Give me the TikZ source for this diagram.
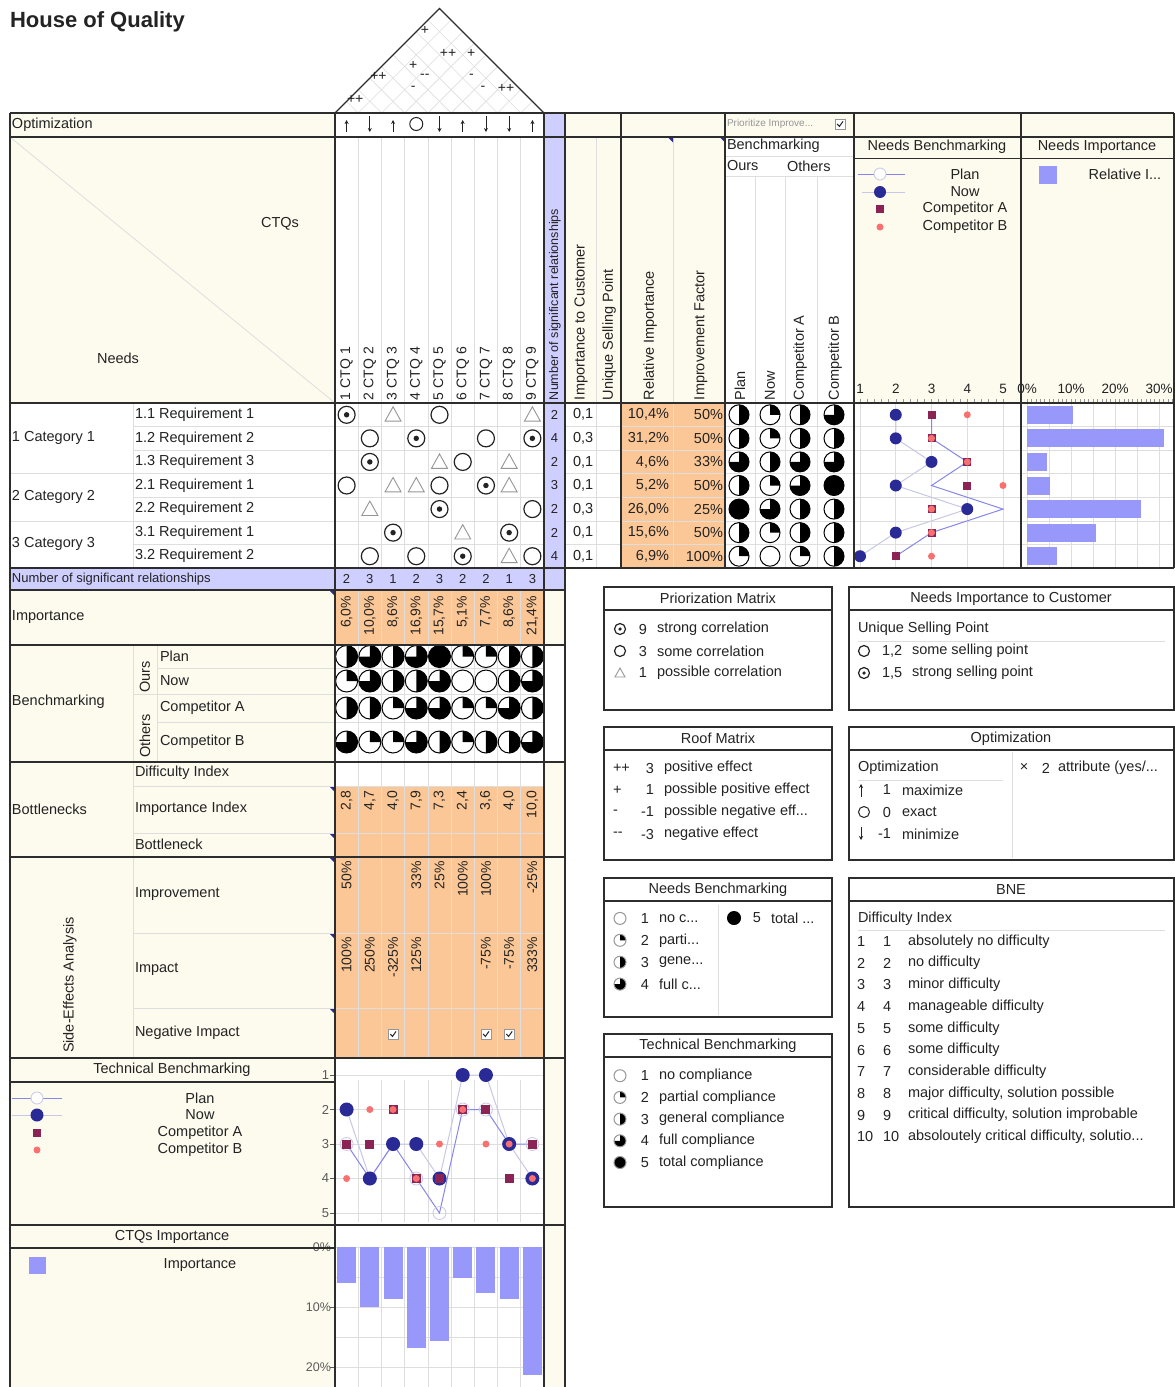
\documentclass[tikz,border=0pt]{standalone}
\usepackage{fontspec}
\setmainfont{Liberation Sans}
\usetikzlibrary{calc,arrows.meta}

\definecolor{cream}{RGB}{253,250,238}
\definecolor{orangecell}{RGB}{252,199,150}
\definecolor{bluecell}{RGB}{206,206,255}
\definecolor{barblue}{RGB}{152,152,250}
\definecolor{navydot}{RGB}{42,42,150}
\definecolor{maroonsq}{RGB}{140,35,85}
\definecolor{salmondot}{RGB}{248,112,112}
\definecolor{planline}{RGB}{135,135,235}
\definecolor{nowline}{RGB}{200,200,230}
\definecolor{gridgray}{RGB}{222,222,222}
\definecolor{framegray}{RGB}{45,45,45}
\definecolor{symgray}{RGB}{150,150,150}
\definecolor{inkgray}{RGB}{35,35,35}
\definecolor{labelgray}{RGB}{90,90,90}

\newcommand{\fs}[1]{\fontsize{#1}{#1}\selectfont}
\newcommand{\colw}{23.222}
\newcommand{\rowh}{23.571}
\newcommand{\tdots}{...}

% Harvey ball: centre, radius, level 1..5, outline colour
\newcommand{\hball}[4]{%
  \fill[white] (#1) circle[radius=#2];
  \ifnum#3>4 \fill[black] (#1) circle[radius=#2];\fi
  \ifnum#3>1 \ifnum#3<5
    \fill[black] (#1) -- ++(270:#2) arc[start angle=270, delta angle={(#3-1)*90}, radius=#2] -- cycle;
  \fi\fi
  \draw[#4, line width=1pt] (#1) circle[radius=#2];}

% relationship symbols: centre, size
\newcommand{\corrstrong}[2]{\draw[inkgray, line width=1.2pt] (#1) circle[radius=#2];
  \fill[inkgray] (#1) circle[radius={0.32*#2}];}
\newcommand{\corrsome}[2]{\draw[inkgray, line width=1.2pt] (#1) circle[radius=#2];}
\newcommand{\corrweak}[2]{\draw[symgray, line width=0.9pt]
  ($(#1)+({-#2},{0.8*#2})$) -- ($(#1)+({#2},{0.8*#2})$) -- ($(#1)+(0,{-1.0*#2})$) -- cycle;}
% ticked check box
\newcommand{\tickbox}[1]{\draw[symgray, fill=white, line width=0.6pt] ($(#1)+(-5,-5)$) rectangle ($(#1)+(5,5)$);
  \draw[inkgray, line width=1pt] ($(#1)+(-2.8,0)$) -- ($(#1)+(-0.6,2.4)$) -- ($(#1)+(3,-2.6)$);}

\begin{document}
\begin{tikzpicture}[x=1pt, y=-1pt,
  every node/.style={inner sep=0pt, outer sep=0pt, font=\fs{14.5}, text=inkgray},
  tframe/.style={draw=framegray, line width=1.3pt},
  hair/.style={draw=gridgray, line width=0.6pt},
  lbl/.style={anchor=west},
  vlbl/.style={rotate=90, anchor=west},
  vval/.style={rotate=90, anchor=east, font=\fs{14}},
  smalltxt/.style={font=\fs{13}},
  legbox/.style={draw=framegray, line width=1.2pt, fill=white},
  legrule/.style={draw=framegray, line width=1.2pt},
  softrule/.style={draw=gridgray, line width=0.8pt},
  upar/.style={draw=inkgray, line width=0.8pt, -{Stealth[length=4pt,width=4pt]}},
]
\useasboundingbox (0,0) rectangle (1175,1387);
\fill[white] (0,0) rectangle (1175,1387);

% ---------------- title
\node[anchor=west, font=\bfseries\fs{22}] (title) at (10,22) {House of Quality};

% ---------------- backgrounds
\fill[cream] (10,113) rectangle (335,403);
\fill[bluecell] (544,113) rectangle (565,590);
\fill[bluecell] (10,568) rectangle (565,590);
\fill[cream] (565,113) rectangle (1174,137);
\fill[cream] (565,137) rectangle (725,403);
\fill[cream] (854,137) rectangle (1174,403);
\fill[orangecell] (621,403) rectangle (725,568);
\fill[cream] (10,590) rectangle (335,1387);
\fill[cream] (544,590) rectangle (565,1387);
\fill[white] (544,645) rectangle (565,762);
\fill[orangecell] (335,590) rectangle (544,645);
\fill[orangecell] (335,786) rectangle (544,1058);

% ---------------- roof
\foreach \k in {1,...,8}{
  \pgfmathsetmacro\bx{335+\colw*\k}
  \draw[hair] (\bx,113) -- ({(544+\bx)/2},{113-(544-\bx)/2});
  \draw[hair] (\bx,113) -- ({(335+\bx)/2},{113-(\bx-335)/2});
}
\draw[tframe] (335,113) -- (439.5,8.5) -- (544,113);
\foreach \i/\j/\m [count=\n] in {1/2/{++},1/4/{++},2/6/+,1/8/+,3/8/{++},4/9/+,3/6/{-{}-},5/8/-,3/5/-,6/8/-,7/9/{++}}{
  \node[font=\fs{14}] (roof\n) at ({335+\colw*((\i+\j)/2-0.5)-3},{113-\colw*(\j-\i)/2-1.5}) {\m};
}

% ---------------- grid of the matrix and side columns
\foreach \k in {1,...,8}{
  \draw[hair] ({335+\colw*\k},137) -- ({335+\colw*\k},568);
  \draw[hair] ({335+\colw*\k},590) -- ({335+\colw*\k},1058);
}
\foreach \r in {1,...,6}{
  \draw[hair] (133,{403+\rowh*\r}) -- (544,{403+\rowh*\r});
  \draw[hair] (565,{403+\rowh*\r}) -- (1174,{403+\rowh*\r});
}
\draw[hair] (10,{403+\rowh*3}) -- (133,{403+\rowh*3});
\draw[hair] (10,{403+\rowh*5}) -- (133,{403+\rowh*5});
\draw[hair] (133,403) -- (133,568);
\draw[hair] (596,137) -- (596,568);
\draw[hair] (673,137) -- (673,568);
\draw[softrule] (725,156) -- (854,156);
\draw[softrule] (725,176) -- (854,176);
\foreach \x in {755,785,817} \draw[hair] (\x,176) -- (\x,568);
\foreach \v in {1,...,5} \draw[hair] ({860+35.75*(\v-1)},403) -- ({860+35.75*(\v-1)},568);
\foreach \k in {0,...,6} \draw[hair] ({1027+22*\k},403) -- ({1027+22*\k},568);
% lower left sub-rows
\draw[hair] (133,645) -- (133,1058);
\draw[hair] (157,645) -- (157,762);
\draw[hair] (157,668) -- (544,668);
\draw[hair] (133,694) -- (544,694);
\draw[hair] (157,722) -- (544,722);
\draw[hair] (133,786) -- (544,786);
\draw[hair] (133,833) -- (544,833);
\draw[hair] (133,933) -- (544,933);
\draw[hair] (133,1008) -- (544,1008);

% ---------------- optimization row
\node[lbl] (optlbl) at (12,125) {Optimization};
\foreach \c in {1,3,6,9}{
  \coordinate (optu\c) at ({335+\colw*(\c-0.5)},125);
  \draw[upar] ($(optu\c)+(0,7)$) -- ($(optu\c)+(0,-5)$);
}
\foreach \c in {2,5,7,8}{
  \coordinate (optd\c) at ({335+\colw*(\c-0.5)},124);
  \draw[upar] ($(optd\c)+(0,-8)$) -- ($(optd\c)+(0,8)$);
}
\coordinate (opt4) at ({335+\colw*3.5},124);
\draw[inkgray, line width=1pt] (opt4) circle[radius=6.5];
\node[lbl, font=\fs{10}, text=symgray] (prio) at (727,124) {Prioritize Improve\tdots};
\coordinate (priobox) at (840,124);
\tickbox{priobox}

% ---------------- header
\draw[gridgray, line width=0.8pt] (10,137) -- (335,403);
\node (ctqs) at (280,224) {CTQs};
\node (needs) at (118,358) {Needs};
\foreach \c in {1,...,9}
  \node[vlbl, font=\fs{14}] (ctq\c) at ({335+\colw*(\c-0.5)},400) {\c\ CTQ \c};
\node[vlbl, font=\fs{12.5}] (nsrhead) at (555,400) {Number of significant relationships};
\node[vlbl] (imphead) at (581,400) {Importance to Customer};
\node[vlbl] (usphead) at (609,400) {Unique Selling Point};
\node[vlbl] (relhead) at (650,400) {Relative Importance};
\node[vlbl] (ifhead) at (701,400) {Improvement Factor};
\node[lbl] (bmhead) at (727,146) {Benchmarking};
\node[lbl] (ourshead) at (727,166) {Ours};
\node[lbl] (othershead) at (787,166) {Others};
\node[vlbl] (bmplan) at (740,400) {Plan};
\node[vlbl] (bmnow) at (770,400) {Now};
\node[vlbl] (bmca) at (800,400) {Competitor A};
\node[vlbl] (bmcb) at (835,400) {Competitor B};
\fill[navydot] (668,137.5) -- (673,137.5) -- (673,142.5) -- cycle;
\fill[navydot] (720,137.5) -- (725,137.5) -- (725,142.5) -- cycle;

% needs benchmarking header and legend
\node (nbhead) at (937,147) {Needs Benchmarking};
\node (nihead) at (1097,147) {Needs Importance};
\draw[framegray, line width=1pt] (854,158) -- (1174,158);
\draw[planline, line width=1pt] (858,174) -- (905,174);
\draw[nowline, fill=white, line width=0.8pt] (880,174) circle[radius=6];
\node (nblplan) at (965,174) {Plan};
\draw[nowline, line width=1pt] (862,192) -- (905,192);
\fill[navydot] (880,192) circle[radius=6];
\node (nblnow) at (965,192) {Now};
\fill[maroonsq] (876,205) rectangle (884,213);
\node (nblca) at (965,209) {Competitor A};
\fill[salmondot] (880,227) circle[radius=3.5];
\node (nblcb) at (965,227) {Competitor B};
\fill[barblue] (1039,166) rectangle (1057,184);
\node (nilrel) at (1125,174) {Relative I\tdots};
\foreach \v in {1,...,5}
  \node[font=\fs{13.5}] (nbax\v) at ({860+35.75*(\v-1)},389) {\v};
\foreach \p [count=\k from 0] in {0,10,20,30}
  \node[font=\fs{13.5}] (niax\p) at ({1027+44*\k},389) {\p\%};
\foreach \k in {0,...,20} \draw[symgray, line width=0.5pt] ({860+7.15*\k},399) -- ({860+7.15*\k},403);
\foreach \k in {0,...,33} \draw[symgray, line width=0.5pt] ({1027+4.4*\k},399) -- ({1027+4.4*\k},403);

% ---------------- needs rows
\node[lbl] (cat1) at (12,{403+\rowh*1.5}) {1 Category 1};
\node[lbl] (cat2) at (12,{403+\rowh*4}) {2 Category 2};
\node[lbl] (cat3) at (12,{403+\rowh*6}) {3 Category 3};
\foreach \r/\t/\u in {1/1.1/1,2/1.2/2,3/1.3/3,4/2.1/1,5/2.2/2,6/3.1/1,7/3.2/2}{
  \node[lbl] (req\r) at (135,{403+\rowh*(\r-0.5)}) {\t\ Requirement \u};
}
\foreach \r in {1,...,7}
  \foreach \c in {1,...,9}
    \coordinate (m-\r-\c) at ({335+\colw*(\c-0.5)},{403+\rowh*(\r-0.5)});
\foreach \r/\c in {1/1,2/4,2/9,3/2,4/7,5/5,6/3,6/8,7/6} {\corrstrong{m-\r-\c}{8.5}}
\foreach \r/\c in {1/5,2/2,2/7,3/6,4/1,4/5,5/9,7/2,7/4,7/9} {\corrsome{m-\r-\c}{8.5}}
\foreach \r/\c in {1/3,1/9,3/5,3/8,4/3,4/4,4/8,5/2,6/6,7/8} {\corrweak{m-\r-\c}{8}}
\foreach \cnt [count=\r] in {2,4,2,3,2,2,4}
  \node[smalltxt] (rc\r) at (554.5,{403+\rowh*(\r-0.5)}) {\cnt};
\foreach \r/\valA/\valB/\valC in {1/{0,1}/{10,4}/50,2/{0,3}/{31,2}/50,3/{0,1}/{4,6}/33,4/{0,1}/{5,2}/50,5/{0,3}/{26,0}/25,6/{0,1}/{15,6}/50,7/{0,1}/{6,9}/100}{
  \node[lbl] (ic\r) at (573,{403+\rowh*(\r-0.5)}) {\valA};
  \node[anchor=east] (ri\r) at (669,{403+\rowh*(\r-0.5)}) {\valB\%};
  \node[anchor=east] (ifc\r) at (723,{403+\rowh*(\r-0.5)}) {\valC\%};
}
% customer benchmarking balls
\foreach \r/\lvP/\lvN/\lvA/\lvB in {1/3/2/3/4,2/3/2/3/3,3/4/3/4/4,4/3/2/4/5,5/5/4/3/3,6/3/2/3/3,7/2/1/2/3}{
  \coordinate (cbp\r) at (739,{403+\rowh*(\r-0.5)});
  \coordinate (cbn\r) at (770,{403+\rowh*(\r-0.5)});
  \coordinate (cba\r) at (800,{403+\rowh*(\r-0.5)});
  \coordinate (cbb\r) at (834,{403+\rowh*(\r-0.5)});
  \hball{cbp\r}{10}{\lvP}{black}
  \hball{cbn\r}{10}{\lvN}{black}
  \hball{cba\r}{10}{\lvA}{black}
  \hball{cbb\r}{10}{\lvB}{black}
}
% needs benchmarking chart
\foreach \v [count=\r] in {3,3,4,3,5,3,2} \coordinate (np\r) at ({860+35.75*(\v-1)},{403+\rowh*(\r-0.5)});
\foreach \v [count=\r] in {2,2,3,2,4,2,1} \coordinate (nn\r) at ({860+35.75*(\v-1)},{403+\rowh*(\r-0.5)});
\foreach \v [count=\r] in {3,3,4,4,3,3,2} \coordinate (na\r) at ({860+35.75*(\v-1)},{403+\rowh*(\r-0.5)});
\foreach \v [count=\r] in {4,3,4,5,3,3,3} \coordinate (nb\r) at ({860+35.75*(\v-1)},{403+\rowh*(\r-0.5)});
\draw[nowline, line width=1pt] (nn1) \foreach \r in {2,...,7}{ -- (nn\r)};
\draw[planline, line width=1pt] (np1) \foreach \r in {2,...,7}{ -- (np\r)};
\foreach \r in {1,...,7} \fill[navydot] (nn\r) circle[radius=6];
\foreach \r in {1,...,7} \fill[maroonsq] ($(na\r)+(-4,-4)$) rectangle ($(na\r)+(4,4)$);
\foreach \r in {1,...,7} \fill[salmondot] (nb\r) circle[radius=3.5];
% needs importance bars
\foreach \v [count=\r] in {10.4,31.2,4.6,5.2,26.0,15.6,6.9}
  \fill[barblue] (1027,{403+\rowh*(\r-0.5)-9}) rectangle ({1027+4.4*\v},{403+\rowh*(\r-0.5)+9});

% ---------------- number of significant relationships
\node[lbl, font=\fs{13}] (nsrlbl) at (12,579) {Number of significant relationships};
\foreach \cnt [count=\c] in {2,3,1,2,3,2,2,1,3}
  \node[smalltxt] (cc\c) at ({335+\colw*(\c-0.5)},579) {\cnt};

% ---------------- importance
\node[lbl] (implbl) at (12,617) {Importance};
\foreach \v [count=\c] in {{6,0},{10,0},{8,6},{16,9},{15,7},{5,1},{7,7},{8,6},{21,4}}
  \node[vval] (imp\c) at ({335+\colw*(\c-0.5)},596) {\v\%};

% ---------------- technical benchmarking balls
\node[lbl] (bmlbl) at (12,702) {Benchmarking};
\node[rotate=90] (ourslbl) at (145,677) {Ours};
\node[rotate=90] (otherslbl) at (145,736) {Others};
\node[lbl] (tplan) at (160,656) {Plan};
\node[lbl] (tnow) at (160,681) {Now};
\node[lbl] (tca) at (160,708) {Competitor A};
\node[lbl] (tcb) at (160,742) {Competitor B};
\foreach \v [count=\c] in {3,4,3,4,5,2,2,3,3}{\coordinate (bp\c) at ({335+\colw*(\c-0.5)},656.5); \hball{bp\c}{11}{\v}{black}}
\foreach \v [count=\c] in {2,4,3,3,4,1,1,3,4}{\coordinate (bn\c) at ({335+\colw*(\c-0.5)},681); \hball{bn\c}{11}{\v}{black}}
\foreach \v [count=\c] in {3,3,2,4,4,2,2,4,3}{\coordinate (ba\c) at ({335+\colw*(\c-0.5)},708); \hball{ba\c}{11}{\v}{black}}
\foreach \v [count=\c] in {4,2,2,4,3,2,3,3,4}{\coordinate (bb\c) at ({335+\colw*(\c-0.5)},742); \hball{bb\c}{11}{\v}{black}}

% ---------------- bottlenecks
\node[lbl] (bnlbl) at (12,809) {Bottlenecks};
\node[lbl] (dilbl) at (135,773) {Difficulty Index};
\node[lbl] (iilbl) at (135,809) {Importance Index};
\node[lbl] (bklbl) at (135,844) {Bottleneck};
\foreach \v [count=\c] in {{2,8},{4,7},{4,0},{7,9},{7,3},{2,4},{3,6},{4,0},{10,0}}
  \node[vval] (ii\c) at ({335+\colw*(\c-0.5)},791) {\v};

% ---------------- side-effects analysis
\node[rotate=90] (sealbl) at (70,985) {Side-Effects Analysis};
\node[lbl] (imprlbl) at (135,894) {Improvement};
\node[lbl] (impalbl) at (135,969) {Impact};
\node[lbl] (neglbl) at (135,1033) {Negative Impact};
\foreach \c/\v in {1/50,4/33,5/25,6/100,7/100,9/-25}
  \node[vval] (impr\c) at ({335+\colw*(\c-0.5)},861) {\v\%};
\foreach \c/\v in {1/100,2/250,3/-325,4/125,7/-75,8/-75,9/333}
  \node[vval] (impa\c) at ({335+\colw*(\c-0.5)},937) {\v\%};
\foreach \c in {3,7,8}{\coordinate (neg\c) at ({335+\colw*(\c-0.5)},1034); \tickbox{neg\c}}
\foreach \y in {591,787,834,858,934,1009}
  \fill[navydot] (330,\y) -- (335,\y) -- (335,\y+5) -- cycle;

% ---------------- technical benchmarking chart
\node (tbtitle) at (172,1070) {Technical Benchmarking};
\draw[planline, line width=1pt] (12,1098) -- (62,1098);
\draw[nowline, fill=white, line width=0.8pt] (37,1098) circle[radius=6];
\node (tblplan) at (200,1098) {Plan};
\draw[nowline, line width=1pt] (12,1115) -- (62,1115);
\fill[navydot] (37,1115) circle[radius=6.5];
\node (tblnow) at (200,1115) {Now};
\fill[maroonsq] (33,1129) rectangle (41,1137);
\node (tblca) at (200,1133) {Competitor A};
\fill[salmondot] (37,1150) circle[radius=3.5];
\node (tblcb) at (200,1150) {Competitor B};
\foreach \v in {1,...,5}{
  \draw[hair] (335,{1075+34.5*(\v-1)}) -- (544,{1075+34.5*(\v-1)});
  \draw[labelgray, line width=0.6pt] (330,{1075+34.5*(\v-1)}) -- (335,{1075+34.5*(\v-1)});
  \node[anchor=east, font=\fs{13}, text=labelgray] (tax\v) at (329,{1075+34.5*(\v-1)}) {\v};
}
\foreach \k in {1,...,8} \draw[hair] ({335+\colw*\k},1080) -- ({335+\colw*\k},1222);
\foreach \v [count=\c] in {3,4,3,4,5,2,2,3,3} \coordinate (tp\c) at ({335+\colw*(\c-0.5)},{1075+34.5*(\v-1)});
\foreach \v [count=\c] in {2,4,3,3,4,1,1,3,4} \coordinate (tn\c) at ({335+\colw*(\c-0.5)},{1075+34.5*(\v-1)});
\foreach \v [count=\c] in {3,3,2,4,4,2,2,4,3} \coordinate (ta\c) at ({335+\colw*(\c-0.5)},{1075+34.5*(\v-1)});
\foreach \v [count=\c] in {4,2,2,4,3,2,3,3,4} \coordinate (tb\c) at ({335+\colw*(\c-0.5)},{1075+34.5*(\v-1)});
\draw[nowline, line width=1pt] (tn1) \foreach \c in {2,...,9}{ -- (tn\c)};
\draw[planline, line width=1pt] (tp1) \foreach \c in {2,...,9}{ -- (tp\c)};
\foreach \c in {1,...,9} \draw[nowline, line width=0.8pt] (tp\c) circle[radius=6.5];
\foreach \c in {1,...,9} \fill[navydot] (tn\c) circle[radius=7];
\foreach \c in {1,...,9} \fill[maroonsq] ($(ta\c)+(-4.5,-4.5)$) rectangle ($(ta\c)+(4.5,4.5)$);
\foreach \c in {1,...,9} \fill[salmondot] (tb\c) circle[radius=3.5];

% ---------------- CTQs importance chart
\node (ctqititle) at (172,1237) {CTQs Importance};
\fill[barblue] (29,1257) rectangle (46,1274);
\node (ctqileg) at (200,1265) {Importance};
\foreach \k in {0,...,4} \draw[hair] (335,{1247+30*\k}) -- (544,{1247+30*\k});
\foreach \k in {1,...,8} \draw[hair] ({335+\colw*\k},1247) -- ({335+\colw*\k},1387);
\foreach \p [count=\k from 0] in {0,10,20}{
  \draw[labelgray, line width=0.6pt] (330,{1247+60*\k}) -- (335,{1247+60*\k});
  \node[anchor=east, font=\fs{12.5}, text=labelgray] (ctqiax\p) at (331,{1247+60*\k}) {\p\%};
}
\foreach \v [count=\c] in {6.0,10.0,8.6,16.9,15.7,5.1,7.7,8.6,21.4}
  \fill[barblue] ({335+\colw*(\c-0.5)-9.5},1247) rectangle ({335+\colw*(\c-0.5)+9.5},{1247+6*\v});

% ---------------- main frame lines
\foreach \y in {113,137,403,568}
  \draw[tframe] (10,\y) -- (1174,\y);
\foreach \y in {590,645,762,857,1058,1225}
  \draw[tframe] (10,\y) -- (565,\y);
\draw[tframe] (10,1082) -- (335,1082);
\draw[tframe] (10,1248) -- (335,1248);
\foreach \x in {10,335,544,565}
  \draw[tframe] (\x,113) -- (\x,1387);
\foreach \x in {621,725,854,1021,1174}
  \draw[tframe] (\x,113) -- (\x,568);

% ---------------- legend: priorization matrix
\draw[legbox] (604,587) rectangle (832,710);
\draw[legrule] (604,610) -- (832,610);
\node (lgpm) at (718,598.5) {Priorization Matrix};
\coordinate (lgpm1) at (620,629); \corrstrong{lgpm1}{5.5}
\coordinate (lgpm2) at (620,651); \corrsome{lgpm2}{5.5}
\coordinate (lgpm3) at (620,673); \corrweak{lgpm3}{5}
\foreach \n/\t [count=\k] in {9/strong correlation,3/some correlation,1/possible correlation}{
  \node (lgpmn\k) at (643,{607+22*\k}) {\n};
  \node[lbl] (lgpmt\k) at (657,{607+22*\k}) {\t};
}

% ---------------- legend: needs importance to customer
\draw[legbox] (849,587) rectangle (1174,710);
\draw[legrule] (849,610) -- (1174,610);
\node (lgni) at (1011,598.5) {Needs Importance to Customer};
\node[lbl] (lgnih) at (858,629) {Unique Selling Point};
\draw[softrule] (858,641) -- (1165,641);
\coordinate (lgni1) at (864,651); \corrsome{lgni1}{5.5}
\coordinate (lgni2) at (864,673); \corrstrong{lgni2}{5.5}
\node[lbl] (lgnin1) at (882,651) {1,2};
\node[lbl] (lgnit1) at (912,651) {some selling point};
\node[lbl] (lgnin2) at (882,673) {1,5};
\node[lbl] (lgnit2) at (912,673) {strong selling point};

% ---------------- legend: roof matrix
\draw[legbox] (604,727) rectangle (832,860);
\draw[legrule] (604,750) -- (832,750);
\node (lgrm) at (718,738.5) {Roof Matrix};
\foreach \s/\n/\t [count=\k] in {{++}/3/positive effect,+/1/possible positive effect,-/-1/possible negative eff\tdots,{-{}-}/-3/negative effect}{
  \node[lbl] (lgrms\k) at (613,{746+22*\k}) {\s};
  \node[anchor=east] (lgrmn\k) at (654,{746+22*\k}) {\n};
  \node[lbl] (lgrmt\k) at (664,{746+22*\k}) {\t};
}

% ---------------- legend: optimization
\draw[legbox] (849,727) rectangle (1174,860);
\draw[legrule] (849,750) -- (1174,750);
\node (lgop) at (1011,738.5) {Optimization};
\draw[softrule] (1012,752) -- (1012,858);
\node[lbl] (lgoph) at (858,768) {Optimization};
\draw[softrule] (858,780) -- (1003,780);
\coordinate (lgop1) at (861,790);
\draw[upar] ($(lgop1)+(0,7)$) -- ($(lgop1)+(0,-6)$);
\coordinate (lgop2) at (864,812);
\draw[inkgray, line width=1pt] (lgop2) circle[radius=5.5];
\coordinate (lgop3) at (861,834);
\draw[upar] ($(lgop3)+(0,-7)$) -- ($(lgop3)+(0,6)$);
\foreach \n/\t [count=\k] in {1/maximize,0/exact,-1/minimize}{
  \node[anchor=east] (lgopn\k) at (891,{768+22*\k}) {\n};
  \node[lbl] (lgopt\k) at (902,{768+22*\k}) {\t};
}
\node (lgopx) at (1024,767) {×};
\node (lgopxn) at (1046,768) {2};
\node[lbl] (lgopxt) at (1058,768) {attribute (yes/\tdots};

% ---------------- legend: needs benchmarking
\draw[legbox] (604,878) rectangle (832,1017);
\draw[legrule] (604,901) -- (832,901);
\node (lgnb) at (718,889.5) {Needs Benchmarking};
\draw[softrule] (718,905) -- (718,1015);
\foreach \t [count=\k] in {no c\tdots,parti\tdots,gene\tdots,full c\tdots}{
  \coordinate (lgnbs\k) at (620,{896.5+21.9*\k});
  \hball{lgnbs\k}{6}{\k}{symgray}
  \node (lgnbn\k) at (645,{896.5+21.9*\k}) {\k};
  \node[lbl] (lgnbt\k) at (659,{896.5+21.9*\k}) {\t};
}
\coordinate (lgnbs5) at (734,918); \hball{lgnbs5}{6.5}{5}{black}
\node (lgnbn5) at (757,918) {5};
\node[lbl] (lgnbt5) at (771,918) {total \tdots};

% ---------------- legend: technical benchmarking
\draw[legbox] (604,1034) rectangle (832,1207);
\draw[legrule] (604,1057) -- (832,1057);
\node (lgtb) at (718,1045.5) {Technical Benchmarking};
\foreach \t [count=\k] in {no compliance,partial compliance,general compliance,full compliance,total compliance}{
  \coordinate (lgtbs\k) at (620,{1054+21.7*\k});
  \hball{lgtbs\k}{6}{\k}{symgray}
  \node (lgtbn\k) at (645,{1054+21.7*\k}) {\k};
  \node[lbl] (lgtbt\k) at (659,{1054+21.7*\k}) {\t};
}

% ---------------- legend: BNE
\draw[legbox] (849,878) rectangle (1174,1207);
\draw[legrule] (849,901) -- (1174,901);
\node (lgbne) at (1011,889.5) {BNE};
\node[lbl] (lgbneh) at (858,919) {Difficulty Index};
\draw[softrule] (858,930) -- (1165,930);
\foreach \t [count=\k] in {absolutely no difficulty,no difficulty,minor difficulty,manageable difficulty,some difficulty,some difficulty,considerable difficulty,{major difficulty, solution possible},{critical difficulty, solution improbable},{absoloutely critical difficulty, solutio\tdots}}{
  \node[lbl] (lgbnea\k) at (857,{919.8+21.7*\k}) {\k};
  \node[lbl] (lgbneb\k) at (883,{919.8+21.7*\k}) {\k};
  \node[lbl] (lgbnet\k) at (908,{919.8+21.7*\k}) {\t};
}
\end{tikzpicture}
\end{document}
